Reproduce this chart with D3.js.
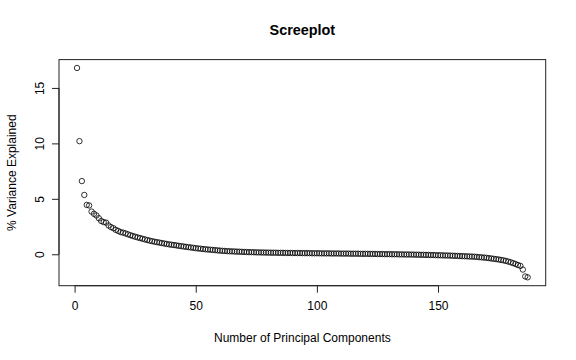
<!DOCTYPE html>
<html><head><meta charset="utf-8">
<script src="https://cdn.jsdelivr.net/npm/d3@7"></script>
<style>body{margin:0;background:#fff}svg{display:block}text{font-family:"Liberation Sans",Arial,Helvetica,sans-serif}</style>
</head><body><svg id="c" width="576" height="360"></svg>
<script>
const variance = [
16.8,10.2,6.6,5.35,4.45,4.4,3.85,3.65,3.5,3.25,3.0,2.9,2.85,2.6,2.45,2.35,2.2,2.1,2.0,1.95,
1.88,1.8,1.72,1.65,1.58,1.52,1.46,1.4,1.34,1.28,1.23,1.18,1.13,1.09,1.05,1.01,0.97,0.93,0.89,0.86,
0.83,0.8,0.76,0.73,0.7,0.67,0.64,0.61,0.58,0.55,0.52,0.5,0.47,0.45,0.43,0.41,0.39,0.37,0.35,0.33,
0.31,0.3,0.28,0.27,0.26,0.25,0.24,0.23,0.22,0.21,0.2,0.19,0.19,0.18,0.17,0.17,0.16,0.16,0.15,0.15,
0.14,0.14,0.14,0.13,0.13,0.13,0.12,0.12,0.12,0.11,0.11,0.11,0.11,0.1,0.1,0.1,0.1,0.09,0.09,0.09,
0.09,0.08,0.08,0.08,0.08,0.07,0.07,0.07,0.07,0.06,0.06,0.06,0.06,0.05,0.05,0.05,0.05,0.04,0.04,0.04,
0.04,0.03,0.03,0.03,0.02,0.02,0.02,0.01,0.01,0.01,0.0,0.0,0.0,-0.01,-0.01,-0.02,-0.02,-0.02,-0.03,-0.03,
-0.04,-0.04,-0.05,-0.05,-0.06,-0.06,-0.07,-0.07,-0.08,-0.09,-0.09,-0.1,-0.11,-0.11,-0.12,-0.13,-0.14,-0.15,-0.16,-0.17,
-0.18,-0.19,-0.2,-0.21,-0.22,-0.24,-0.26,-0.28,-0.3,-0.32,-0.35,-0.38,-0.41,-0.44,-0.47,-0.51,-0.55,-0.6,-0.66,-0.72,
-0.8,-0.88,-0.97,-1.05,-1.38,-2.0,-2.08];
const components = variance.map((v,i)=>i+1);
const xTicks = [0,50,100,150];
const yTicks = [0,5,10,15];
const titleText = "Screeplot";
const xLabel = "Number of Principal Components";
const yLabel = "% Variance Explained";

const svg = d3.select("#c");
const L=59, R=545.7, T=59.6, B=285.7;
const pad = (a,b)=>{const d=(b-a)*0.04;return [a-d,b+d];};
const x = d3.scaleLinear().domain(pad(1,variance.length)).range([L,R]);
const ymin=d3.min(variance), ymax=d3.max(variance);
const y = d3.scaleLinear().domain(pad(ymin,ymax)).range([B,T]);

svg.append("rect").attr("x",L).attr("y",T).attr("width",R-L).attr("height",B-T)
  .attr("fill","none").attr("stroke","#222").attr("stroke-width",1);

const xa = svg.append("g").attr("transform",`translate(0,${B})`)
  .call(d3.axisBottom(x).tickValues(xTicks).tickSize(7).tickPadding(9).tickSizeOuter(0));
xa.select(".domain").attr("d",`M${x(xTicks[0])},0H${x(xTicks[xTicks.length-1])}`);
const ya = svg.append("g").attr("transform",`translate(${L},0)`)
  .call(d3.axisLeft(y).tickValues(yTicks).tickSize(7).tickSizeOuter(0));
ya.select(".domain").attr("d",`M0,${y(yTicks[0])}V${y(yTicks[yTicks.length-1])}`);
svg.selectAll(".domain,.tick line").attr("stroke","#222");
svg.selectAll(".tick text").attr("font-size",12).attr("fill","#000").attr("font-family",'"Liberation Sans",Arial,sans-serif');
ya.selectAll(".tick text").attr("x",null).attr("dy",null)
  .attr("transform","translate(-15,0) rotate(-90)").attr("text-anchor","middle");

svg.append("g").selectAll("circle").data(variance).join("circle")
  .attr("cx",(d,i)=>x(components[i])).attr("cy",d=>y(d)).attr("r",2.7)
  .attr("fill","none").attr("stroke","#000").attr("stroke-width",0.8);

svg.append("text").attr("x",(L+R)/2).attr("y",35).attr("text-anchor","middle")
  .attr("font-size",14.4).attr("font-weight","bold").text(titleText);
svg.append("text").attr("x",(L+R)/2).attr("y",342).attr("text-anchor","middle")
  .attr("font-size",12).text(xLabel);
svg.append("text").attr("transform",`translate(16,${(T+B)/2}) rotate(-90)`).attr("text-anchor","middle")
  .attr("font-size",12).text(yLabel);
</script></body></html>
